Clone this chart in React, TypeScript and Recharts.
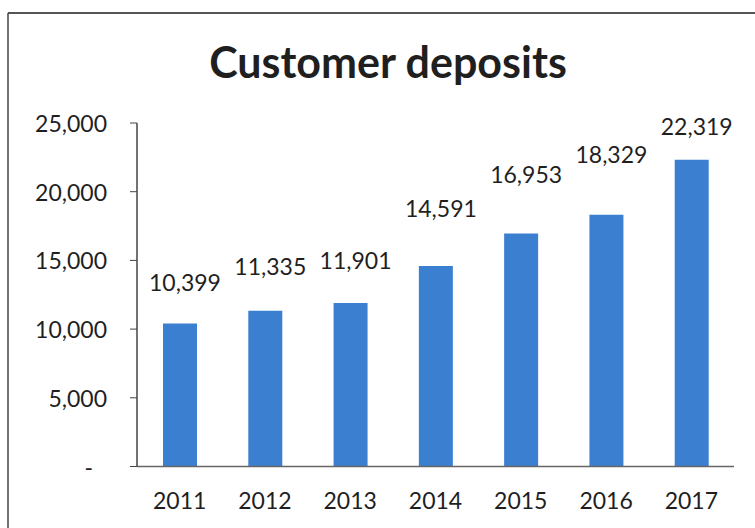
import { BarChart, Bar, XAxis, YAxis, LabelList } from "recharts";

const YEARS = ["2011", "2012", "2013", "2014", "2015", "2016", "2017"];
const DEPOSITS = [10399, 11335, 11901, 14591, 16953, 18329, 22319];
const Y_TICKS = [0, 5000, 10000, 15000, 20000, 25000];
const EDGE_TICKS = [0, 1, 2, 3, 4, 5, 6, 7];

// labels were hand-placed in the source chart; how far each sits above its bar
const LABEL_RAISE = [42, 45, 43, 58, 60, 61, 34];

const BAR_COLOR = "#3b7fd0";
const TEXT_COLOR = "#1f1f1f";
const FONT = "Lato, 'Open Sans', sans-serif";

const rows = YEARS.map((year, i) => ({ year, value: DEPOSITS[i], edge: i + 0.5 }));

const fmt = (v: number) => v.toLocaleString("en-US");

function YTick(props: any) {
  const { x, y, payload } = props;
  const v = payload.value as number;
  return (
    <text
      x={v === 0 ? x - 14 : x}
      y={y}
      textAnchor="end"
      dominantBaseline="central"
      fontSize={23}
      fontFamily={FONT}
      fill={TEXT_COLOR}
    >
      {v === 0 ? "-" : fmt(v)}
    </text>
  );
}

function ValueLabel(props: any) {
  const { x, y, width, value, index } = props;
  return (
    <text
      x={x + width / 2 + 5}
      y={y - LABEL_RAISE[index]}
      textAnchor="middle"
      dominantBaseline="central"
      fontSize={23}
      fontFamily={FONT}
      fill={TEXT_COLOR}
    >
      {fmt(value)}
    </text>
  );
}

export default function App() {
  return (
    <div style={{ position: "absolute", left: 0, top: 0, width: 755, height: 528, background: "#fff" }}>
      <BarChart
        width={755}
        height={528}
        data={rows}
        margin={{ top: 123, right: 21, left: 0, bottom: 0 }}
        barCategoryGap={0}
      >
        {/* boundary ticks between categories, like the Excel axis */}
        <XAxis
          xAxisId={0}
          dataKey="edge"
          type="number"
          domain={[0, 7]}
          ticks={EDGE_TICKS}
          height={1}
          tick={false}
          tickSize={7}
          tickLine={{ stroke: "#555" }}
          axisLine={{ stroke: "#666", strokeWidth: 1.5 }}
        />
        <XAxis
          xAxisId={1}
          dataKey="year"
          height={60.5}
          tickLine={false}
          axisLine={false}
          tickSize={6}
          tickMargin={19}
          tick={{ fontSize: 23, fontFamily: FONT, fill: TEXT_COLOR }}
        />
        <YAxis
          width={137}
          domain={[0, 25000]}
          ticks={Y_TICKS}
          tickSize={7}
          tickMargin={23}
          tickLine={{ stroke: "#444" }}
          axisLine={{ stroke: "#444", strokeWidth: 1.5 }}
          tick={<YTick />}
        />
        <Bar xAxisId={1} dataKey="value" fill={BAR_COLOR} barSize={34} isAnimationActive={false}>
          <LabelList dataKey="value" content={<ValueLabel />} />
        </Bar>
      </BarChart>
      <svg
        width={755}
        height={528}
        style={{ position: "absolute", left: 0, top: 0, pointerEvents: "none" }}
      >
        <line x1={8} y1={13} x2={755} y2={13} stroke="#555" strokeWidth={2} />
        <line x1={8} y1={13} x2={8} y2={528} stroke="#444" strokeWidth={1.5} />
        <text
          x={388}
          y={78}
          textAnchor="middle"
          fontSize={43}
          fontWeight="bold"
          fontFamily={FONT}
          fill={TEXT_COLOR}
        >
          Customer deposits
        </text>
      </svg>
    </div>
  );
}
